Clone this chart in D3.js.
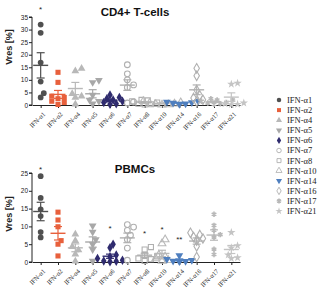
<!DOCTYPE html>
<html><head><meta charset="utf-8">
<script src="https://cdn.jsdelivr.net/npm/d3@7"></script>
<style>body{margin:0;background:#fff;}svg{display:block;}</style>
</head><body>
<script>
const categories = ["IFN-α1","IFN-α2","IFN-α4","IFN-α5","IFN-α6","IFN-α7","IFN-α8","IFN-α10","IFN-α14","IFN-α16","IFN-α17","IFN-α21"];
const colors = ["#505050","#e8603c","#b8b8b8","#a8a8a8","#2f2b6e","#b0b0b0","#b0b0b0","#b8b8b8","#4f7fbf","#b0b0b0","#b8b8b8","#c4c4c4"];
const filled = [true,true,true,true,true,false,false,false,true,false,true,true];
const shapes = ["circle","square","triangle","triangleDown","diamond","circle","square","triangle","triangleDown","diamond","asterisk","star"];

const cd4Values = [
  [32,28.7,16.9,9.3,4.7,3],
  [13,9,3.5,3,2.5,1.5,1,0.2],
  [14.5,13.5,4.5,3.5,3,0.3],
  [9.8,9,4,2,1.5,0.5],
  [4,3,2.5,2,1.5,1,0.5,0.3],
  [16,12.4,10,8,7,1.2,0.8],
  [2,1.8,1.5,1,0.5,0.3,0.2],
  [1.5,1,0.8,0.5,0.3,0.2,0.1],
  [1.5,1.2,1,0.8,0.5,0.3],
  [14.6,11.6,6,3.8,2.8,2.1,1.4],
  [2.5,2,2,1.5,1,0.8,0.5,0.3],
  [8.7,8.3,0.8,0.5,0.3,0.2]
];
const pbmcValues = [
  [24.1,18,14.8,12.9,8.4,6.9],
  [14,11.8,9.9,6,5,1.7],
  [7.8,6,4.3,3.4,2.2,0.2],
  [10.2,8.4,6.3,5,3.5,0.3],
  [5,4,2,1.5,1,0.5,0.3,0.2,0.1],
  [10.5,9.8,8.9,7.5,6.3,3.9,0.5],
  [4.2,3.5,2,1.6,1,0.8,0.3],
  [6.3,5.2,2,1.5,1,0.5,0.3],
  [1.8,0.8,0.5,0.3,0.2,0.1],
  [8.2,7.6,7,6.6,6,4.4,1.4],
  [13.4,10.3,8.9,7.7,7,3.6,2.1],
  [8.3,4.6,4,2,1.2,1]
];
const cd4Stars = [{cat:"IFN-α1", text:"*", value:38.5}];
const pbmcStars = [
  {cat:"IFN-α1", text:"*", value:26.5},
  {cat:"IFN-α6", text:"*", value:9.8},
  {cat:"IFN-α8", text:"*", value:8.3},
  {cat:"IFN-α10", text:"*", value:9.5},
  {cat:"IFN-α14", text:"**", value:6.8}
];
const cd4Ticks = [0,5,10,15,20,25,30,35];
const pbmcTicks = [0,5,10,15,20,25];

const W = 318, H = 288;
const svg = d3.select("body").append("svg").attr("width", W).attr("height", H);

function symbolFor(i, size) {
  const s = shapes[i];
  const map = {circle:d3.symbolCircle, square:d3.symbolSquare, triangle:d3.symbolTriangle,
    triangleDown:d3.symbolTriangle, diamond:d3.symbolDiamond, asterisk:d3.symbolAsterisk, star:d3.symbolStar};
  return d3.symbol().type(map[s]).size(size)();
}
function styleMark(sel, i, sw) {
  const c = colors[i];
  if (shapes[i] === "asterisk") {
    sel.attr("fill","none").attr("stroke",c).attr("stroke-width",1.6);
  } else if (filled[i]) {
    sel.attr("fill",c).attr("stroke","none");
  } else {
    sel.attr("fill","none").attr("stroke",c).attr("stroke-width",sw);
  }
  if (shapes[i] === "triangleDown") sel.attr("transform", function(){ return (d3.select(this).attr("transform")||"") + " rotate(180)"; });
}

function panel(opts) {
  const x = d3.scalePoint().domain(categories).range([32, 240]).padding(0.5);
  const y = d3.scaleLinear().domain([0, opts.max]).range([opts.y0, opts.y1]);
  const g = svg.append("g");

  g.append("text").attr("x",135).attr("y",opts.titleY).attr("text-anchor","middle")
    .attr("font-family","Liberation Sans, Arial, sans-serif").attr("font-weight","bold")
    .attr("font-size",11.5).attr("fill","#111").text(opts.title);
  g.append("text").attr("transform",`translate(12,${opts.labelY}) rotate(-90)`).attr("text-anchor","middle")
    .attr("font-family","Liberation Sans, Arial, sans-serif").attr("font-weight","bold")
    .attr("font-size",9).attr("fill","#222").text("Vres [%]");

  const ya = g.append("g").attr("transform","translate(32,0)")
    .call(d3.axisLeft(y).tickValues(opts.ticks).tickSize(3).tickPadding(1));
  ya.selectAll("text").attr("font-family","Liberation Sans, Arial, sans-serif").attr("font-size",6.5).attr("fill","#222");
  ya.select(".domain").attr("stroke","#222").attr("d",`M-3,${y(opts.max)}H0V${y(0)}H-3`);
  ya.selectAll(".tick line").attr("stroke","#222");

  const xa = g.append("g").attr("transform",`translate(0,${opts.y0})`)
    .call(d3.axisBottom(x).tickSize(3).tickSizeOuter(0));
  xa.select(".domain").attr("stroke","#222");
  xa.selectAll(".tick line").attr("stroke","#222");
  xa.selectAll("text").attr("font-family","Liberation Serif, Times New Roman, serif").attr("font-size",6.5)
    .attr("fill","#222").attr("text-anchor","end").attr("y",0).attr("dy","0.35em")
    .attr("transform","translate(3,8) rotate(-45)");

  const r = 2.6;
  opts.values.forEach((vals, i) => {
    const cx = x(categories[i]);
    const placed = [];
    const sorted = vals.slice().sort((a,b)=>a-b);
    sorted.forEach(v => {
      const py = y(v);
      let off = 0;
      const cands = [0];
      for (let k=1;k<8;k++){ cands.push(k*r*1.2, -k*r*1.2); }
      for (const c of cands) {
        if (placed.every(p => Math.hypot(p[0]-c, p[1]-py) >= r*1.8)) { off = c; break; }
      }
      placed.push([off, py]);
    });
    const sz = shapes[i]==="star" ? 22 : (shapes[i]==="asterisk" ? 20 : 26);
    placed.forEach(p => {
      const m = g.append("path").attr("d", symbolFor(i, sz)).attr("transform",`translate(${cx+p[0]},${p[1]})`);
      styleMark(m, i, 1.1);
    });
    const mean = d3.mean(vals);
    const sem = d3.deviation(vals)/Math.sqrt(vals.length);
    const lc = colors[i];
    g.append("line").attr("x1",cx-7.5).attr("x2",cx+7.5).attr("y1",y(mean)).attr("y2",y(mean)).attr("stroke",lc).attr("stroke-width",1.4);
    g.append("line").attr("x1",cx).attr("x2",cx).attr("y1",y(mean+sem)).attr("y2",y(Math.max(0,mean-sem))).attr("stroke",lc).attr("stroke-width",1.2);
    g.append("line").attr("x1",cx-4).attr("x2",cx+4).attr("y1",y(mean+sem)).attr("y2",y(mean+sem)).attr("stroke",lc).attr("stroke-width",1.2);
    g.append("line").attr("x1",cx-4).attr("x2",cx+4).attr("y1",y(Math.max(0,mean-sem))).attr("y2",y(Math.max(0,mean-sem))).attr("stroke",lc).attr("stroke-width",1.2);
  });

  opts.stars.forEach(s => {
    g.append("text").attr("x",x(s.cat)).attr("y",y(s.value)+4).attr("text-anchor","middle")
      .attr("font-family","Liberation Sans, Arial, sans-serif").attr("font-size",8).attr("fill","#222").text(s.text);
  });
}

panel({title:"CD4+ T-cells", titleY:16, labelY:47, values:cd4Values, max:35, y0:105, y1:17, ticks:cd4Ticks, stars:cd4Stars});
panel({title:"PBMCs", titleY:173, labelY:214, values:pbmcValues, max:25, y0:262, y1:173, ticks:pbmcTicks, stars:pbmcStars});

const lg = svg.append("g");
categories.forEach((c, i) => {
  const ly = 100 + i*10.1;
  const m = lg.append("path").attr("d", symbolFor(i, 16)).attr("transform",`translate(279,${ly})`);
  styleMark(m, i, 0.9);
  lg.append("text").attr("x",287).attr("y",ly).attr("dy","0.35em")
    .attr("font-family","Liberation Serif, Times New Roman, serif").attr("font-size",8.5).attr("fill","#222").text(c);
});
</script>
</body></html>
